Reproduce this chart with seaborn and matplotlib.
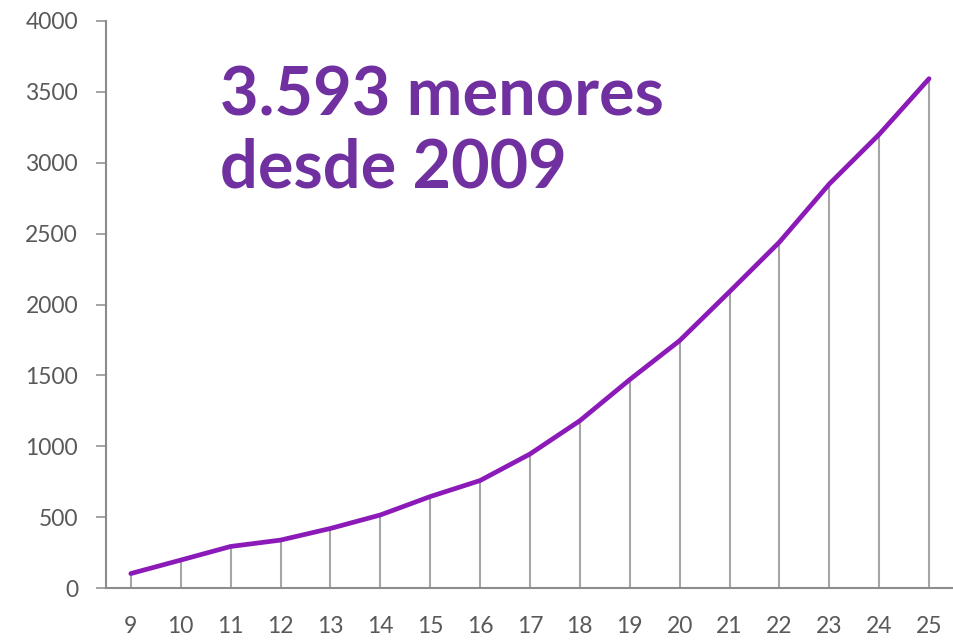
import matplotlib
matplotlib.use('Agg')
import matplotlib.pyplot as plt
import seaborn as sns
import pandas as pd

# data
years = [9, 10, 11, 12, 13, 14, 15, 16, 17, 18, 19, 20, 21, 22, 23, 24, 25]
menores = [102, 197, 293, 338, 420, 515, 645, 758, 945, 1180, 1470, 1745, 2090, 2440, 2850, 3200, 3593]
y_ticks = [0, 500, 1000, 1500, 2000, 2500, 3000, 3500, 4000]
annotation = "3.593 menores\ndesde 2009"

df = pd.DataFrame({'year': years, 'menores': menores})

sns.set_style('white')
plt.rcParams['font.family'] = ['Lato', 'DejaVu Sans']

fig = plt.figure(figsize=(9.54, 6.42), dpi=100)
ax = fig.add_axes([0.111, 0.0841, 0.889, 0.8832])

# gray drop lines from each point to the axis
ax.vlines(df['year'], 0, df['menores'], color='#a6a6a6', linewidth=1.5, zorder=1)
sns.lineplot(data=df, x='year', y='menores', color='#8b1ab8', linewidth=3.4, ax=ax, zorder=2)

ax.set_xlim(8.5, 25.5)
ax.set_ylim(0, 4000)
ax.set_xticks(years)
ax.set_yticks(y_ticks)
ax.set_xlabel('')
ax.set_ylabel('')

for side in ['top', 'right']:
    ax.spines[side].set_visible(False)
for side in ['left', 'bottom']:
    ax.spines[side].set_color('#8c8c8c')
    ax.spines[side].set_linewidth(1.5)

ax.tick_params(axis='y', which='both', left=True, length=7, width=1.1, color='#8c8c8c',
               labelsize=16.5, labelcolor='#595959', pad=13)
ax.tick_params(axis='x', which='both', bottom=False, labelsize=16.5, labelcolor='#595959', pad=17)

# multiline text: baseline anchor is the last line
ax.text(220 / 954, 1 - 188 / 642, annotation, transform=fig.transFigure, fontsize=48,
        fontweight='bold', color='#7030a0', va='baseline', ha='left', linespacing=1.22)

plt.savefig('out.png', dpi=100)
